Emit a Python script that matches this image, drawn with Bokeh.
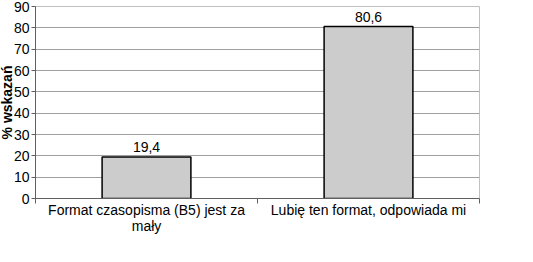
from bokeh.plotting import figure
from bokeh.models import FixedTicker, Range1d, ColumnDataSource, LabelSet, Title
from bokeh.core.properties import value
from bokeh.embed import file_html
from bokeh.resources import INLINE

categories = ["Format czasopisma (B5) jest za\nmały", "Lubię ten format, odpowiada mi"]
values = [19.4, 80.6]
value_labels = ["19,4", "80,6"]
y_ticks = [0, 10, 20, 30, 40, 50, 60, 70, 80, 90]
y_title = "% wskazań"

positions = [i + 0.5 for i in range(len(categories))]

src = ColumnDataSource(dict(x=positions, top=values, lab=value_labels))

p = figure(width=533, height=262, frame_width=444, frame_height=192,
           x_range=Range1d(0, len(categories)), y_range=Range1d(0, 90),
           output_backend="svg", toolbar_location=None,
           min_border_left=0, min_border_right=53, min_border_top=6, min_border_bottom=0)
p.outline_line_color = "#c0c0c0"
p.background_fill_color = "white"
p.border_fill_color = "white"

p.vbar(x="x", top="top", bottom=0, width=0.4, source=src,
       fill_color="#cccccc", line_color="black", line_width=1.5)

labels = LabelSet(x="x", y="top", text="lab", source=src, text_align="center",
                  text_baseline="bottom", y_offset=5, text_font=value("Liberation Sans"),
                  text_font_size="14px", text_color="black")
p.add_layout(labels)

# vertical axis title, pulled in tight against the tick labels
p.add_layout(Title(text=y_title, align="center", standoff=-8, offset=0,
                   text_font="Liberation Sans", text_font_style="bold",
                   text_font_size="14px", text_color="black",
                   text_line_height=1.0), "left")

# x axis: labels at category centres, tick marks at category boundaries
p.xaxis.ticker = FixedTicker(ticks=positions, minor_ticks=list(range(len(categories) + 1)))
p.xaxis.major_label_overrides = {pos: cat for pos, cat in zip(positions, categories)}
p.xaxis.major_tick_out = 0
p.xaxis.major_tick_in = 0
p.xaxis.minor_tick_out = 5
p.xaxis.minor_tick_in = 0
p.xaxis.minor_tick_line_color = "#606060"
p.xaxis.axis_line_color = "#606060"
p.xaxis.major_label_text_font = "Liberation Sans"
p.xaxis.major_label_text_font_size = "14px"
p.xaxis.major_label_text_color = "black"
p.xaxis.major_label_text_line_height = 1.0
p.xaxis.major_label_standoff = -2
p.xgrid.visible = False

p.yaxis.ticker = FixedTicker(ticks=y_ticks)
p.yaxis.minor_tick_line_color = None
p.yaxis.major_tick_out = 4
p.yaxis.major_tick_in = 0
p.yaxis.major_tick_line_color = "#606060"
p.yaxis.axis_line_color = "#606060"
p.yaxis.major_label_text_font = "Liberation Sans"
p.yaxis.major_label_text_font_size = "14px"
p.yaxis.major_label_text_color = "black"
p.yaxis.major_label_standoff = 2
p.ygrid.grid_line_color = "#a0a0a0"
p.ygrid.grid_line_width = 1

open("out.html", "w").write(file_html(p, INLINE))
